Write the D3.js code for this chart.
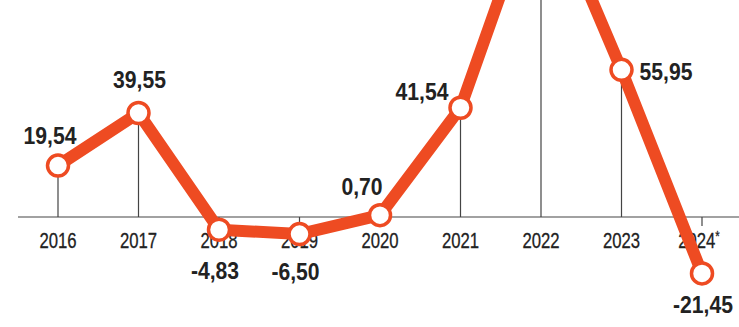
<!DOCTYPE html>
<html>
<head>
<meta charset="utf-8">
<script src="https://cdn.jsdelivr.net/npm/d3@7"></script>
<style>
  html, body { margin: 0; padding: 0; background: #fff; }
  svg { display: block; }
  .year { font-family: "Liberation Sans", Arial, sans-serif; font-size: 22px; fill: #222; stroke: #222; stroke-width: 0.3px; }
  .val { font-family: "Liberation Sans", Arial, sans-serif; font-weight: bold; font-size: 23px; fill: #222; }
</style>
</head>
<body>
<div id="chart"></div>
<script>
// chart data
const years = ["2016", "2017", "2018", "2019", "2020", "2021", "2022", "2023", "2024"];
const yearLabels = ["2016", "2017", "2018", "2019", "2020", "2021", "2022", "2023", "2024*"];
const values = [19.54, 39.55, -4.83, -6.50, 0.70, 41.54, 128, 55.95, -21.45];
const valueLabels = ["19,54", "39,55", "-4,83", "-6,50", "0,70", "41,54", "", "55,95", "-21,45"];

// label placement relative to each point [dx, dy, anchor]
const labelPos = [
  [-8, -22, "middle"], [1, -25, "middle"], [-4, 49, "middle"], [-4, 46, "middle"],
  [-18, -20, "middle"], [-12, -8, "end"], [0, 0, "middle"], [18, 10, "start"], [1, 40, "middle"]
];

const width = 739, height = 327;
const orange = "#ee4b22";

const svg = d3.select("#chart").append("svg")
  .attr("width", width)
  .attr("height", height);

const x = d3.scalePoint().domain(years).range([58, 702]);
const y = d3.scaleLinear().domain([0, 100]).range([217, 217 - 263]);

// baseline
svg.append("line")
  .attr("x1", 18).attr("x2", width)
  .attr("y1", y(0)).attr("y2", y(0))
  .attr("stroke", "#444").attr("stroke-width", 1.2);

// drop lines (up to point for positive, short tick for negative)
svg.append("g").selectAll("line")
  .data(years)
  .enter().append("line")
  .attr("x1", d => x(d)).attr("x2", d => x(d))
  .attr("y1", y(0))
  .attr("y2", (d, i) => values[i] >= 0 ? y(values[i]) : y(0) + 9)
  .attr("stroke", "#444").attr("stroke-width", 1.2);

// year labels (condensed by horizontal scale)
const yl = svg.append("g").selectAll("text")
  .data(years)
  .enter().append("text")
  .attr("class", "year")
  .attr("transform", (d, i) => `translate(${x(d) - (yearLabels[i].includes("*") ? 3 : 0)},248) scale(0.76,1)`)
  .attr("text-anchor", "middle");
yl.append("tspan").text((d, i) => yearLabels[i].replace("*", ""));
yl.filter((d, i) => yearLabels[i].includes("*"))
  .append("tspan").attr("dy", -7).attr("font-size", "15px").text("*");

// line
const line = d3.line()
  .x(d => x(d))
  .y((d, i) => y(values[i]));

svg.append("path")
  .datum(years)
  .attr("d", line)
  .attr("fill", "none")
  .attr("stroke", orange)
  .attr("stroke-width", 12)
  .attr("stroke-linejoin", "round");

// markers
svg.append("g").selectAll("circle")
  .data(years)
  .enter().append("circle")
  .attr("cx", d => x(d))
  .attr("cy", (d, i) => y(values[i]))
  .attr("r", 10.5)
  .attr("fill", "#fff")
  .attr("stroke", orange)
  .attr("stroke-width", 3.5);

// value labels
svg.append("g").selectAll("text")
  .data(years)
  .enter().append("text")
  .attr("class", "val")
  .attr("transform", (d, i) => `translate(${x(d) + labelPos[i][0]},${y(values[i]) + labelPos[i][1]}) scale(0.92,1)`)
  .attr("text-anchor", (d, i) => labelPos[i][2])
  .text((d, i) => valueLabels[i]);
</script>
</body>
</html>
